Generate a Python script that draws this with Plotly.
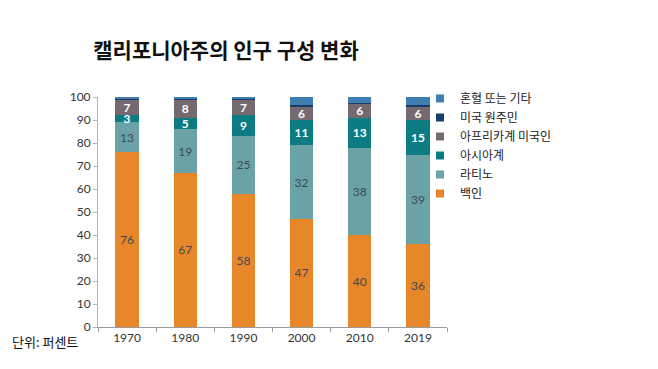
import plotly.graph_objects as go

years = ["1970", "1980", "1990", "2000", "2010", "2019"]
white = [76, 67, 58, 47, 40, 36]
latino = [13, 19, 25, 32, 38, 39]
asian = [3, 5, 9, 11, 13, 15]
black = [7, 8, 7, 6, 6, 6]
native = [0.5, 0.5, 0.5, 0.5, 0.4, 0.4]
multi = [0.5, 0.5, 0.5, 3.5, 2.6, 3.6]

series = [
    ("백인", white, "#E8862A", True, "#3d4a52", False),
    ("라티노", latino, "#6AA2A6", True, "#3d4a52", False),
    ("아시아계", asian, "#0C7C84", True, "#ffffff", True),
    ("아프리카계 미국인", black, "#766A72", True, "#ffffff", True),
    ("미국 원주민", native, "#1C3D6A", False, None, False),
    ("혼혈 또는 기타", multi, "#3F7DB2", False, None, False),
]

NUM_FONT = "Lato, 'Open Sans', sans-serif"
KR_FONT = "'Noto Sans CJK KR', sans-serif"

fig = go.Figure()
for name, vals, color, lab, tcol, bold in series:
    kw = {}
    if lab:
        kw = dict(
            text=[str(v) for v in vals],
            textposition="inside",
            insidetextanchor="middle",
            textangle=0,
            constraintext="none",
            textfont=dict(family=NUM_FONT, size=12, color=tcol,
                          weight="bold" if bold else "normal"),
        )
    fig.add_trace(go.Bar(x=years, y=vals, name=name, marker_color=color,
                         marker_line_width=0, width=0.4, showlegend=False,
                         hoverinfo="skip", **kw))

# legend entries (top to bottom)
for name, vals, color, lab, tcol, bold in reversed(series):
    fig.add_trace(go.Scatter(x=[None], y=[None], mode="markers", name=name,
                             marker=dict(symbol="square", size=8, color=color)))

W, H = 650, 361
L, T, R, B = 90, 89, 211, 42
PW, PH = W - L - R, H - T - B

fig.update_layout(
    width=W, height=H,
    barmode="stack",
    margin=dict(l=L, r=R, t=T, b=B, autoexpand=False),
    paper_bgcolor="white", plot_bgcolor="white",
    title=dict(text="<b>캘리포니아주의 인구 구성 변화</b>", x=218/W, xanchor="center",
               y=1 - 43/H, yanchor="middle",
               font=dict(family=KR_FONT, size=21, color="#111111")),
    legend=dict(x=(412 - L)/PW, xanchor="left", y=1 + 13/PH, yanchor="top",
                traceorder="normal",
                font=dict(family=KR_FONT, size=12, color="#222222"),
                itemwidth=30, tracegroupgap=0, bgcolor="rgba(0,0,0,0)"),
    xaxis=dict(type="category", range=[-0.5, 5.5], showline=True, linecolor="#9a9a9a",
               ticks="outside", tickson="boundaries", ticklen=4, tickcolor="#9a9a9a",
               tickfont=dict(family=NUM_FONT, size=12, color="#333333"),
               showgrid=False, fixedrange=True),
    yaxis=dict(range=[0, 100], dtick=10, showline=True, linecolor="#b5b5b5",
               ticks="outside", ticklen=4, tickcolor="#b5b5b5",
               tickfont=dict(family=NUM_FONT, size=12, color="#333333"),
               showgrid=False, zeroline=False, fixedrange=True),
    annotations=[dict(text="단위: 퍼센트", xref="paper", yref="paper",
                      x=(2 - L)/PW, y=-14/PH, xanchor="left", yanchor="middle",
                      showarrow=False,
                      font=dict(family=KR_FONT, size=13, color="#111111"))],
)

fig.write_html("out.html")
